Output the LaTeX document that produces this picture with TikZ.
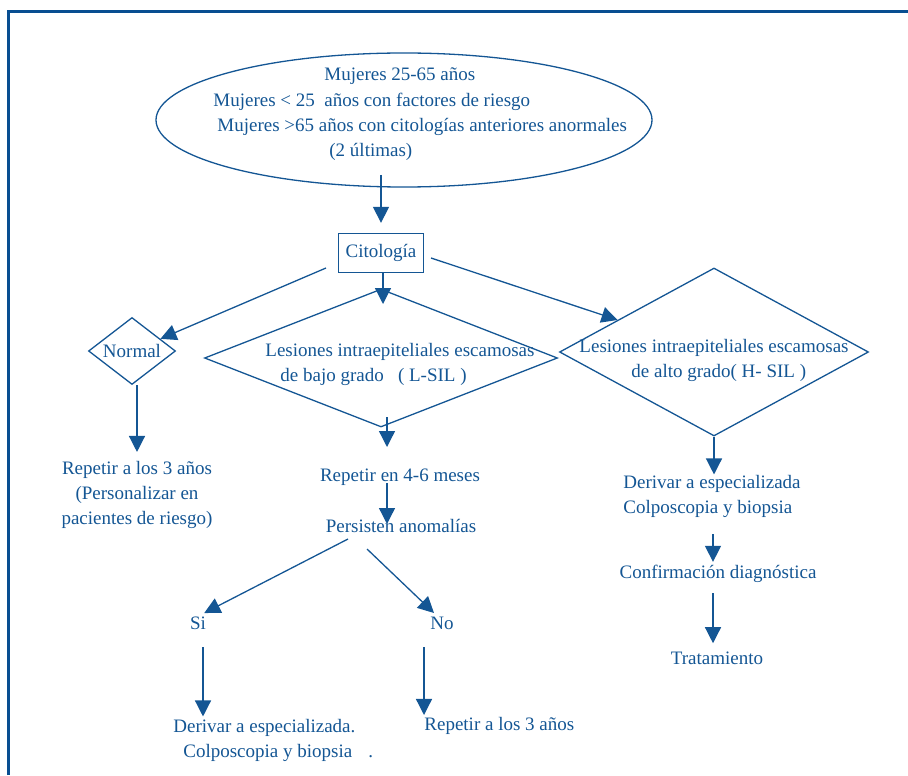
\documentclass[tikz,border=0pt]{standalone}
\usepackage{fontspec}
\setmainfont{Liberation Serif}
\usetikzlibrary{shapes.geometric,arrows.meta}

\definecolor{azul}{RGB}{20,86,148}
\definecolor{azulmarco}{RGB}{8,78,145}

\tikzset{
  texto/.style={text=azul, font=\fontsize{9.5}{12.5}\selectfont, inner sep=0pt},
  linea/.style={draw=azul, line width=0.65pt},
  flecha/.style={linea, -{Triangle[length=8pt,width=8pt]}},
  rombo/.style={diamond, linea, inner sep=0pt},
  caja/.style={rectangle, linea, texto}
}

\begin{document}
\begin{tikzpicture}[x=0.5pt,y=-0.5pt]
  \useasboundingbox (0,0) rectangle (908,775);
  % marco
  \draw[azulmarco, line width=1.5pt] (8,775) -- (8,12) -- (908,12);

  % poblacion diana
  \node[ellipse, linea, inner sep=0pt, minimum width=248pt, minimum height=67pt] (pob) at (404,120) {};
  \node[texto, anchor=west] (pob1) at (324,76) {Mujeres 25-65 años};
  \node[texto, anchor=west] (pob2) at (213,102) {Mujeres < 25~ años con factores de riesgo};
  \node[texto, anchor=west] (pob3) at (217,127) {Mujeres >65 años con citologías anteriores anormales};
  \node[texto, anchor=west] (pob4) at (329,152) {(2 últimas)};

  \node[caja, minimum width=42.5pt, minimum height=19.5pt] (cito) at (381,253) {Citología};

  % resultados
  \node[rombo, minimum width=43.5pt, minimum height=33.5pt,
    label={[texto]center:Normal}] (normal) at (132,351) {};
  \node[rombo, minimum width=176.5pt, minimum height=69pt] (lsil) at (381,358) {};
  \node[texto, align=left, anchor=west] (lsiltxt) at (265,364)
    {Lesiones intraepiteliales escamosas\\\hspace{7.5pt}de bajo grado~~~( L-SIL )};
  \node[rombo, minimum width=154.5pt, minimum height=84pt] (hsil) at (714,352) {};
  \node[texto, align=center] (hsiltxt) at (714,360)
    {Lesiones intraepiteliales escamosas\\~~de alto grado( H- SIL )};

  % rama normal
  \node[texto, align=center] (rep3) at (137,495)
    {Repetir a los 3 años\\(Personalizar en\\pacientes de riesgo)};

  % rama L-SIL
  \node[texto] (rep46) at (400,477) {Repetir en 4-6 meses};
  \node[texto] (persis) at (401,526) {Persisten anomalías};
  \node[texto] (si) at (198,623) {Si};
  \node[texto] (no) at (442,623) {No};
  \node[texto, align=left, anchor=west] (deriv1) at (173,740)
    {Derivar a especializada.\\\hspace{5pt}Colposcopia y biopsia\hspace{8pt}.};
  \node[texto, anchor=west] (rep3b) at (424,726) {Repetir a los 3 años};

  % rama H-SIL
  \node[texto, align=left, anchor=west] (deriv2) at (623,496)
    {Derivar a especializada\\Colposcopia y biopsia};
  \node[texto] (confir) at (718,574) {Confirmación diagnóstica};
  \node[texto] (trat) at (717,658) {Tratamiento};

  % extremos libres
  \coordinate (e1) at (381,175);
  \coordinate (e2) at (326,268);
  \coordinate (e3) at (383,304);
  \coordinate (e4) at (431,258);
  \coordinate (e5) at (387,417);
  \coordinate (e6) at (387,447);
  \coordinate (e7) at (387,483);
  \coordinate (e8) at (387,524);
  \coordinate (e9) at (348,539);
  \coordinate (e10) at (367,549);
  \coordinate (e11) at (434,613);
  \coordinate (e12) at (203,647);
  \coordinate (e13) at (424,647);
  \coordinate (e14) at (713,534);
  \coordinate (e15) at (713,593);

  \draw[flecha, shorten >=5pt] (e1) -- (cito.north);
  \draw[flecha] (e2) -- (normal);
  \draw[flecha] (cito.south -| e3) -- (e3);
  \draw[flecha] (e4) -- (hsil);
  \draw[flecha, shorten >=4.5pt] (normal.south -| rep3.north) -- (rep3.north);
  \draw[flecha] (e5) -- (e6);
  \draw[flecha] (e7) -- (e8);
  \draw[flecha, shorten >=3.5pt] (e9) -- (si.north);
  \draw[flecha] (e10) -- (e11);
  \draw[flecha, shorten >=1pt] (e12) -- (e12 |- deriv1.north);
  \draw[flecha, shorten >=1pt] (e13) -- (e13 |- rep3b.north);
  \draw[flecha] (hsil.south) -- (hsil.south |- deriv2.north);
  \draw[flecha, shorten >=1.5pt] (e14) -- (e14 |- confir.north);
  \draw[flecha, shorten >=4pt] (e15) -- (e15 |- trat.north);
\end{tikzpicture}
\end{document}
